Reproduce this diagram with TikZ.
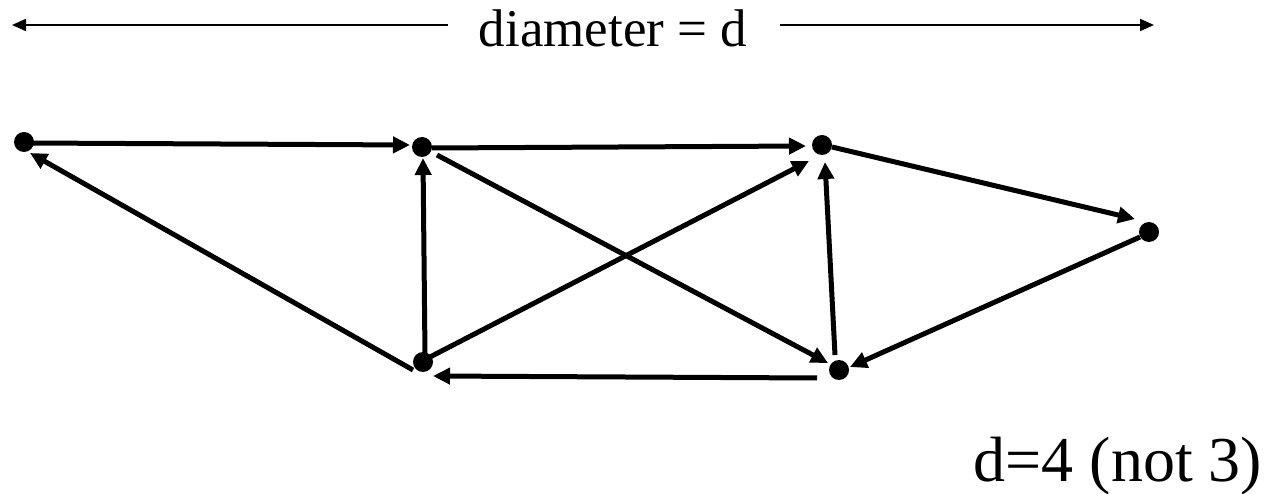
\documentclass[tikz,border=0pt]{standalone}
\usepackage{fontspec}
\setmainfont{Liberation Serif}
\usetikzlibrary{arrows.meta,calc}
\begin{document}
\begin{tikzpicture}[x=1pt,y=-1pt,
  dot/.style={circle,fill=black,inner sep=0pt,minimum size=20pt},
  edge/.style={line width=5pt,-{Triangle[length=17pt,width=16pt]}},
  dimarrow/.style={line width=2pt,-{Triangle[length=14pt,width=12pt]}},
  lbl/.style={anchor=base,inner sep=0pt}]
\useasboundingbox (0,0) rectangle (1270,494);
\coordinate (A) at (24,142);
\coordinate (B) at (422,147);
\coordinate (C) at (822,145);
\coordinate (D) at (1149,232);
\coordinate (E) at (423,362);
\coordinate (F) at (839,370);
% edges
\draw[edge] ($(A)+(6,1)$) -- ($(B)+(-12,-2)$);
\draw[edge] ($(B)+(10,1)$) -- ($(C)+(-16,1)$);
\draw[edge] ($(C)+(10,2)$) -- ($(D)+(-14,-13)$);
\draw[edge] ($(D)+(-9,5)$) -- ($(F)+(11,-3)$);
\draw[edge] ($(F)+(-22,8)$) -- ($(E)+(10,14)$);
\draw[edge] ($(E)+(-10,8)$) -- ($(A)+(6,11)$);
\draw[edge] ($(E)+(2,-7)$) -- ($(B)+(1,11)$);
\draw[edge] ($(E)+(7,-5)$) -- ($(C)+(-13,16)$);
\draw[edge] ($(B)+(15,8)$) -- ($(F)+(-11,-7)$);
\draw[edge] ($(F)+(-4,-15)$) -- ($(C)+(3,17)$);
% dots
\foreach \n in {A,B,C,D,E,F} \node[dot] (d\n) at (\n) {};
% diameter
\node[lbl,font=\fontsize{53}{60}\selectfont] (diam) at (613,47) {diameter = d};
\coordinate (dl) at (448,25);
\coordinate (dlt) at (12,25);
\coordinate (dr) at (780,25);
\coordinate (drt) at (1154,25);
\draw[dimarrow] (dl) -- (dlt);
\draw[dimarrow] (dr) -- (drt);
\node[lbl,font=\fontsize{64}{70}\selectfont] (note) at (1118,481) {d=4 (not 3)};
\end{tikzpicture}
\end{document}
